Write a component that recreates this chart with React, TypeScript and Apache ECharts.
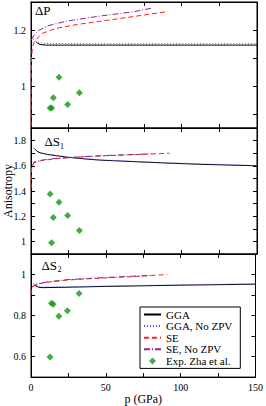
import React, { useEffect, useRef } from "react";
import * as echarts from "echarts";

// Pressure (GPa) of the experimental points
const expP = [12.7, 13.7, 14.8, 18.6, 24.3, 32.1];
const expDP = [0.921, 0.921, 0.958, 1.031, 0.934, 0.976];
const expDS1 = [1.376, 0.99, 1.19, 1.31, 1.205, 1.087];
const expDS2 = [0.598, 0.86, 0.855, 0.797, 0.823, 0.908];

// Panel ΔP
const dpGGA = [[3.5, 1.156], [6, 1.148], [10, 1.146], [50, 1.146], [150, 1.146]];
const dpGGAnz = [[1.5, 1.168], [4, 1.158], [8, 1.152], [50, 1.151], [150, 1.151]];
const dpSE = [[0, 0.8], [0.1, 1.0], [0.3, 1.1], [1, 1.14], [2.4, 1.16], [7, 1.187], [16, 1.205], [31, 1.22], [46, 1.231], [68, 1.248], [91, 1.266]];
const dpSEnz = [[0.3, 1.165], [2, 1.182], [5, 1.198], [11, 1.215], [24, 1.232], [46, 1.25], [68, 1.265], [80, 1.278]];

// Panel ΔS1
const s1GGA = [[2.4, 1.735], [4, 1.715], [6, 1.703], [11, 1.69], [24, 1.668], [38, 1.652], [46, 1.645], [70, 1.632], [90, 1.622], [112, 1.612], [150, 1.6]];
const s1GGAnz = [[1.5, 1.742], [2.4, 1.737], [4, 1.717], [6, 1.705], [11, 1.692], [24, 1.67], [46, 1.647], [90, 1.624], [150, 1.602]];
const s1SE = [[0, 1.42], [0.2, 1.55], [0.7, 1.6], [2, 1.625], [7, 1.641], [16, 1.655], [25, 1.664], [38, 1.674], [46, 1.678], [68, 1.688], [92, 1.7]];
const s1SEnz = [[1, 1.6], [2, 1.63], [7, 1.645], [16, 1.658], [25, 1.666], [46, 1.68], [68, 1.69], [80, 1.695]];

// Panel ΔS2
const s2GGA = [[2.4, 0.947], [5, 0.938], [8, 0.936], [24, 0.938], [50, 0.942], [100, 0.948], [150, 0.953]];
const s2GGAnz = [[1.5, 0.955], [3, 0.95], [6, 0.94], [24, 0.94], [50, 0.944], [100, 0.95], [150, 0.955]];
const s2SE = [[0, 0.9], [0.3, 0.935], [1.5, 0.945], [4.6, 0.954], [11, 0.962], [24, 0.973], [38, 0.979], [46, 0.982], [68, 0.99], [91, 1.0]];
const s2SEnz = [[1, 0.94], [4.6, 0.956], [11, 0.964], [24, 0.975], [46, 0.984], [68, 0.992], [80, 0.995]];

// Axes
const xTickValues = [0, 25, 50, 75, 100, 125, 150];
const xLabelValues = [0, 50, 100, 150];
const yRanges = [[0.85, 1.3], [0.9, 1.9], [0.5, 1.1]];
const yTicks = [[0.9, 1.0, 1.1, 1.2], [1.0, 1.1, 1.2, 1.3, 1.4, 1.5, 1.6, 1.7, 1.8], [0.6, 0.7, 0.8, 0.9, 1.0]];
const yLabels = [[1.0, 1.2], [1.0, 1.2, 1.4, 1.6, 1.8], [0.6, 0.8, 1.0]];

const names = ["GGA", "GGA, No ZPV", "SE", "SE, No ZPV", "Exp. Zha et al."];

const FONT = "Liberation Serif, Times New Roman, serif";

export default function App() {
  const ref = useRef<HTMLDivElement>(null);
  useEffect(() => {
    if (!ref.current) return;
    const chart = echarts.init(ref.current, null, { renderer: "svg" });
    const grids = [
      { left: 31, top: 2, width: 226, height: 126 },
      { left: 31, top: 128, width: 226, height: 126 },
      { left: 31, top: 254, width: 226, height: 127 },
    ];
    const xAxes: any[] = [];
    const yAxes: any[] = [];
    grids.forEach((_, i) => {
      ["bottom", "top"].forEach((pos) => {
        xAxes.push({
          gridIndex: i,
          type: "value",
          min: 0,
          max: 150,
          position: pos,
          axisLine: { show: true, onZero: false, lineStyle: { color: "#000", width: 1 } },
          axisTick: { show: true, inside: true, length: 4, customValues: xTickValues, lineStyle: { color: "#000" } },
          axisLabel: {
            show: i === 2 && pos === "bottom",
            customValues: xLabelValues,
            fontSize: 10,
            color: "#000",
            fontFamily: FONT,
            margin: 5,
          },
          splitLine: { show: false },
          name: i === 2 && pos === "bottom" ? "p (GPa)" : "",
          nameLocation: "middle",
          nameGap: 12,
          nameTextStyle: { fontSize: 12, color: "#000", fontFamily: FONT },
        });
      });
      ["left", "right"].forEach((pos) => {
        yAxes.push({
          gridIndex: i,
          type: "value",
          min: yRanges[i][0],
          max: yRanges[i][1],
          position: pos,
          axisLine: { show: true, onZero: false, lineStyle: { color: "#000", width: 1 } },
          axisTick: { show: true, inside: true, length: 4, customValues: yTicks[i], lineStyle: { color: "#000" } },
          axisLabel: {
            show: pos === "left",
            customValues: yLabels[i],
            formatter: (v: number) => String(Math.round(v * 10) / 10),
            fontSize: 10,
            color: "#000",
            fontFamily: FONT,
            margin: 5,
          },
          splitLine: { show: false },
        });
      });
    });

    const lineSets = [
      [dpGGA, dpGGAnz, dpSE, dpSEnz],
      [s1GGA, s1GGAnz, s1SE, s1SEnz],
      [s2GGA, s2GGAnz, s2SE, s2SEnz],
    ];
    const exps = [expDP, expDS1, expDS2];
    const styles = [
      { color: "#000000", type: "solid" },
      { color: "#4d4dff", type: [1, 2] },
      { color: "#ff2020", type: [5, 3] },
      { color: "#8b2a8b", type: [6, 2, 1, 2] },
    ];
    const series: any[] = [];
    lineSets.forEach((set, i) => {
      set.forEach((d, k) => {
        series.push({
          type: "line",
          name: names[k],
          xAxisIndex: i * 2,
          yAxisIndex: i * 2,
          data: d,
          symbol: "none",
          smooth: false,
          clip: true,
          lineStyle: { color: styles[k].color, type: styles[k].type, width: 1 },
          itemStyle: { color: styles[k].color },
        });
      });
      series.push({
        type: "scatter",
        name: names[4],
        xAxisIndex: i * 2,
        yAxisIndex: i * 2,
        data: expP.map((p, j) => [p, exps[i][j]]),
        symbol: "diamond",
        symbolSize: 7,
        itemStyle: { color: "#119911" },
      });
    });

    chart.setOption({
      animation: false,
      backgroundColor: "#fff",
      grid: grids.map((g) => ({ ...g, show: true, borderColor: "#000", borderWidth: 1, containLabel: false })),
      xAxis: xAxes,
      yAxis: yAxes,
      series,
      legend: {
        orient: "vertical",
        left: 140,
        top: 307,
        data: [
          { name: names[0], itemStyle: { opacity: 0 } },
          { name: names[1], itemStyle: { opacity: 0 } },
          { name: names[2], itemStyle: { opacity: 0 } },
          { name: names[3], itemStyle: { opacity: 0 } },
          { name: names[4], icon: "path://M5,0 L10,5 L5,10 L0,5 Z" },
        ],
        symbolKeepAspect: true,
        borderColor: "#000",
        borderWidth: 1,
        padding: [2, 8, 2, 3],
        itemWidth: 17,
        itemHeight: 7,
        itemGap: 0.6,
        textStyle: { fontSize: 11, lineHeight: 10, color: "#000", fontFamily: FONT },
        selectedMode: false,
      },
      graphic: [
        { type: "text", x: 35, y: 10.5, style: { text: "ΔP", fontSize: 13, fontFamily: FONT, fill: "#000", verticalAlign: "middle" } },
        { type: "text", x: 44.5, y: 141, style: { text: "ΔS", fontSize: 13, fontFamily: FONT, fill: "#000", verticalAlign: "middle" } },
        { type: "text", x: 60, y: 146, style: { text: "1", fontSize: 8, fontFamily: FONT, fill: "#000", verticalAlign: "middle" } },
        { type: "text", x: 41.5, y: 265.5, style: { text: "ΔS", fontSize: 13, fontFamily: FONT, fill: "#000", verticalAlign: "middle" } },
        { type: "text", x: 57.5, y: 269.5, style: { text: "2", fontSize: 8, fontFamily: FONT, fill: "#000", verticalAlign: "middle" } },
        {
          type: "text",
          x: 8,
          y: 191,
          rotation: Math.PI / 2,
          style: { text: "Anisotropy", fontSize: 12, fontFamily: FONT, fill: "#000", align: "center", verticalAlign: "middle" },
        },
      ],
    });
    return () => chart.dispose();
  }, []);
  return <div ref={ref} style={{ position: "absolute", left: 0, top: 0, width: 266, height: 406 }} />;
}
